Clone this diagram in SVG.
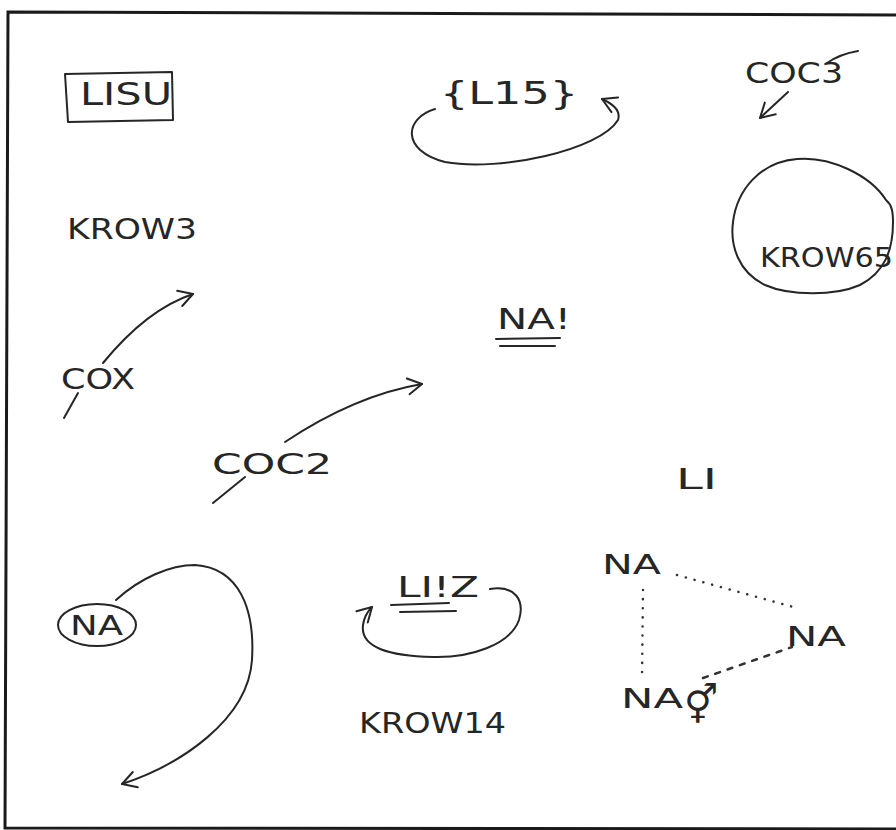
<svg xmlns="http://www.w3.org/2000/svg" width="896" height="830" viewBox="0 0 896 830">
<defs>
<style>
.t{font-family:"DejaVu Sans","Liberation Sans",sans-serif;fill:#262626;font-weight:normal}
.s{fill:none;stroke:#262626;stroke-width:2;stroke-linecap:round;stroke-linejoin:round}
.f{fill:none;stroke:#1a1a1a;stroke-width:3}
.dot{fill:none;stroke:#333;stroke-width:2.5;stroke-linecap:round;stroke-dasharray:0.1 9}
.dash{fill:none;stroke:#333;stroke-width:2.5;stroke-linecap:round;stroke-dasharray:5 8}
</style>
<marker id="ah" viewBox="0 0 20 20" refX="18" refY="10" markerWidth="20" markerHeight="20" markerUnits="userSpaceOnUse" orient="auto">
<path d="M4,2 L18,10 L4,18" fill="none" stroke="#262626" stroke-width="2" stroke-linecap="round" stroke-linejoin="round"/>
</marker>
</defs>
<rect width="896" height="830" fill="#ffffff"/>
<g id="frame">
<path class="f" d="M896,15 L8,12 L5,828 L896,829"/>
</g>
<g id="lisu">
<path class="s" d="M65,74 L172,72 L173,120 L68,122 Z"/>
<text class="t" x="80" y="105" font-size="32" textLength="92" lengthAdjust="spacingAndGlyphs">LISU</text>
</g>
<g id="l15">
<text class="t" x="440" y="104" font-size="32" textLength="138" lengthAdjust="spacingAndGlyphs">{L15}</text>
</g>
<g id="coc3">
<text class="t" x="745" y="83" font-size="28" textLength="98" lengthAdjust="spacingAndGlyphs">COC3</text>
<path class="s" d="M827,63 Q840,54 858,51"/>
</g>
<g id="krow65">
<path class="s" d="M797,159 C830,156 870,175 886,200 C892,205 893,212 893,222 C893,250 885,272 860,285 C835,296 790,296 765,285 C738,272 730,245 733,222 C737,190 760,162 797,159 Z"/>
<text class="t" x="760" y="267" font-size="27" textLength="133" lengthAdjust="spacingAndGlyphs">KROW65</text>
</g>
<g id="krow3">
<text class="t" x="67" y="239" font-size="28" textLength="130" lengthAdjust="spacingAndGlyphs">KROW3</text>
</g>
<g id="cox">
<text class="t" x="61" y="389" font-size="28" textLength="74" lengthAdjust="spacingAndGlyphs">COX</text>
</g>
<g id="coc2">
<text class="t" x="212" y="474" font-size="28" textLength="120" lengthAdjust="spacingAndGlyphs">COC2</text>
</g>
<g id="na-excl">
<text class="t" x="497" y="329" font-size="28" textLength="74" lengthAdjust="spacingAndGlyphs">NA!</text>
<path class="s" d="M496,339 L560,338 M500,346 L555,346"/>
</g>
<g id="li">
<text class="t" x="676" y="489" font-size="28" textLength="41" lengthAdjust="spacingAndGlyphs">LI</text>
</g>
<g id="na-circled">
<ellipse class="s" cx="97" cy="625" rx="39" ry="21"/>
<text class="t" x="70" y="635" font-size="27" textLength="53" lengthAdjust="spacingAndGlyphs">NA</text>
</g>
<g id="liz">
<text class="t" x="397" y="597" font-size="28" textLength="82" lengthAdjust="spacingAndGlyphs">LI!Z</text>
<path class="s" d="M391,605 L449,603 M400,612 L456,611"/>
</g>
<g id="krow14">
<text class="t" x="359" y="733" font-size="28" textLength="147" lengthAdjust="spacingAndGlyphs">KROW14</text>
</g>
<g id="na1">
<text class="t" x="602" y="574" font-size="27" textLength="59" lengthAdjust="spacingAndGlyphs">NA</text>
</g>
<g id="na2">
<text class="t" x="786" y="646" font-size="27" textLength="60" lengthAdjust="spacingAndGlyphs">NA</text>
</g>
<g id="na3">
<text class="t" x="621" y="708" font-size="27" textLength="62" lengthAdjust="spacingAndGlyphs">NA</text>
<text class="t" x="684" y="718" font-size="38">⚥</text>
</g>
<g id="connectors">
<path class="s" d="M435,109 C405,118 400,150 445,162 C500,172 600,150 618,120 Q622,108 602,99" marker-end="url(#ah)"/>
<path class="s" d="M788,92 L760,118" marker-end="url(#ah)"/>
<path class="s" d="M103,363 C130,330 160,305 193,294" marker-end="url(#ah)"/>
<path class="s" d="M78,393 L64,418"/>
<path class="s" d="M285,442 C330,412 375,392 422,384" marker-end="url(#ah)"/>
<path class="s" d="M245,477 L213,503"/>
<path class="s" d="M116,600 C140,578 170,565 195,565 C240,568 255,610 252,660 C248,720 180,765 122,784" marker-end="url(#ah)"/>
<path class="s" d="M490,589 C515,585 525,600 519,620 C510,645 470,658 433,657 C390,656 360,648 363,625 C364,618 367,612 372,607" marker-end="url(#ah)"/>
<path class="dot" d="M677,575 L797,608"/>
<path class="dot" d="M643,590 L642,677"/>
<path class="dash" d="M703,678 L792,647"/>
</g>
</svg>
